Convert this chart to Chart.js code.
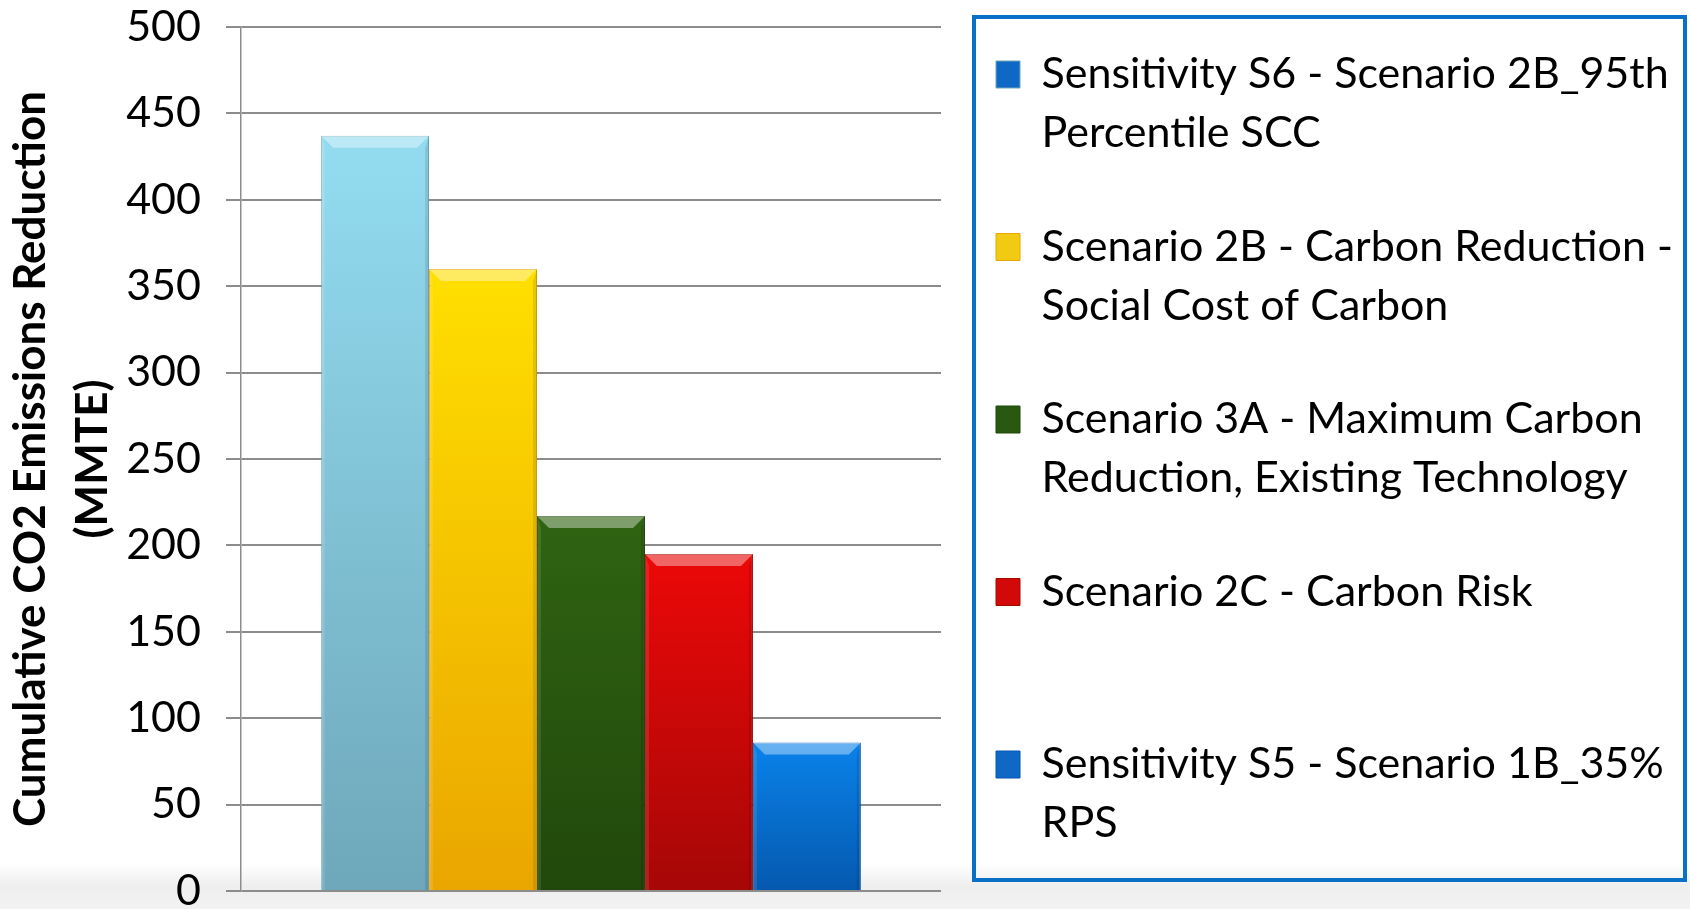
<!DOCTYPE html>
<html>
<head>
<meta charset="utf-8">
<script src="https://cdn.jsdelivr.net/npm/chart.js@4.4.1/dist/chart.umd.min.js"></script>
<style>
  html, body { margin: 0; padding: 0; }
  body {
    width: 1690px;
    height: 909px;
    overflow: hidden;
    background: linear-gradient(to bottom, #ffffff 0%, #ffffff 95%, #eeeeee 97.5%, #f2f2f2 100%);
  }
</style>
</head>
<body>
<canvas id="chart" width="1690" height="909"></canvas>
<script>
// data
const categories = [''];
const seriesNames = [
  'Sensitivity S6 - Scenario 2B_95th Percentile SCC',
  'Scenario 2B - Carbon Reduction - Social Cost of Carbon',
  'Scenario 3A - Maximum Carbon Reduction, Existing Technology',
  'Scenario 2C - Carbon Risk',
  'Sensitivity S5 - Scenario 1B_35% RPS'
];
// how the legend wraps each name
const legendLines = [
  ['Sensitivity S6 - Scenario 2B_95th', 'Percentile SCC'],
  ['Scenario 2B - Carbon Reduction -', 'Social Cost of Carbon'],
  ['Scenario 3A - Maximum Carbon', 'Reduction, Existing Technology'],
  ['Scenario 2C - Carbon Risk', ''],
  ['Sensitivity S5 - Scenario 1B_35%', 'RPS']
];
const seriesValues = [437, 360, 217, 195, 86];
const yTicks = [0, 50, 100, 150, 200, 250, 300, 350, 400, 450, 500];
const yTitle = ['Cumulative CO2 Emissions Reduction', '(MMTE)'];

// colours
const barTop = ['#93DCF0', '#FFDF00', '#2F6412', '#EC0808', '#0A82EA'];
const barBottom = ['#6EA7BA', '#EAA600', '#21480B', '#A60707', '#0559AE'];
const legendColors = ['#0F68C6', '#F2CA12', '#295811', '#D20909', '#0F68C6'];

const gridColor = '#8c8c8c';

function barFill(i) {
  return (c) => {
    const chart = c.chart;
    const area = chart.chartArea;
    if (!area || !c.parsed) return barTop[i];
    const top = chart.scales.y.getPixelForValue(c.parsed.y);
    const g = chart.ctx.createLinearGradient(0, top, 0, area.bottom);
    g.addColorStop(0, barTop[i]);
    g.addColorStop(1, barBottom[i]);
    return g;
  };
}

// bevelled look of the bars
const bevelPlugin = {
  id: 'bevel',
  afterDatasetsDraw(chart) {
    const ctx = chart.ctx;
    chart.data.datasets.forEach((ds, i) => {
      chart.getDatasetMeta(i).data.forEach(bar => {
        const { x, y, base, width } = bar.getProps(['x', 'y', 'base', 'width'], true);
        const l = x - width / 2, r = x + width / 2, b = 12;
        ctx.save();
        ctx.fillStyle = 'rgba(255,255,255,0.38)';
        ctx.beginPath();
        ctx.moveTo(l, y); ctx.lineTo(r, y); ctx.lineTo(r - b, y + b); ctx.lineTo(l + b, y + b);
        ctx.closePath();
        ctx.fill();
        ctx.fillStyle = 'rgba(0,0,0,0.10)';
        ctx.beginPath();
        ctx.moveTo(r, y); ctx.lineTo(r, base); ctx.lineTo(r - 4, base); ctx.lineTo(r - 4, y + b);
        ctx.closePath();
        ctx.fill();
        ctx.fillStyle = 'rgba(255,255,255,0.10)';
        ctx.beginPath();
        ctx.moveTo(l, y); ctx.lineTo(l, base); ctx.lineTo(l + 4, base); ctx.lineTo(l + 4, y + b);
        ctx.closePath();
        ctx.fill();
        ctx.restore();
      });
    });
  }
};

// blue frame round the legend
const legendFrame = {
  id: 'legendFrame',
  afterDraw(chart) {
    const lg = chart.legend;
    if (!lg) return;
    const ctx = chart.ctx;
    const left = lg.left + 33, top = 17, right = chart.width - 5, bottom = chart.height - 29;
    ctx.save();
    ctx.strokeStyle = '#0A6FC6';
    ctx.lineWidth = 4;
    ctx.strokeRect(left, top, right - left, bottom - top);
    ctx.restore();
  }
};

const datasets = seriesValues.map((v, i) => ({
  label: seriesNames[i],
  data: [v],
  backgroundColor: barFill(i),
  borderColor: barBottom[i],
  borderWidth: 1,
  categoryPercentage: 0.771,
  barPercentage: 1.0
}));

const chart = new Chart(document.getElementById('chart'), {
  type: 'bar',
  data: { labels: categories, datasets: datasets },
  plugins: [bevelPlugin, legendFrame],
  options: {
    responsive: false,
    animation: false,
    layout: { padding: { top: -2, left: 0, right: 0, bottom: 0 } },
    plugins: {
      tooltip: { enabled: false },
      legend: {
        display: true,
        position: 'right',
        align: 'start',
        maxWidth: 749,
        labels: {
          color: '#000',
          boxWidth: 24,
          boxHeight: 27,
          padding: 55,
          font: { family: 'Lato', size: 43, lineHeight: 58.75 / 43 },
          generateLabels: (ch) => ch.data.datasets.map((ds, i) => ({
            text: legendLines[i],
            fillStyle: legendColors[i],
            strokeStyle: barBottom[i],
            lineWidth: 1,
            fontColor: '#000',
            hidden: !ch.isDatasetVisible(i),
            datasetIndex: i
          }))
        }
      }
    },
    scales: {
      x: {
        display: false,
        offset: true
      },
      y: {
        min: 0,
        max: 500,
        afterBuildTicks: (scale) => { scale.ticks = yTicks.map(v => ({ value: v })); },
        afterFit: (scale) => {
          scale.width = 241;
          scale.paddingTop = 27;
          scale.paddingBottom = 18;
        },
        grid: {
          color: gridColor,
          lineWidth: 2,
          drawTicks: true,
          tickLength: 15
        },
        border: { display: true, color: gridColor, width: 1.5 },
        ticks: {
          color: '#000',
          padding: 25,
          font: { family: 'Lato', size: 43 }
        },
        title: {
          display: true,
          text: yTitle,
          color: '#000',
          padding: 0,
          font: { family: 'Lato', size: 44, weight: 'bold', lineHeight: 62 / 44 }
        }
      }
    }
  }
});

// make the legend exactly fill the space right of the plot
const extra = 749 - chart.legend.width;
if (extra > 0) {
  chart.options.layout.padding.right = extra;
  chart.update();
}
</script>
</body>
</html>
